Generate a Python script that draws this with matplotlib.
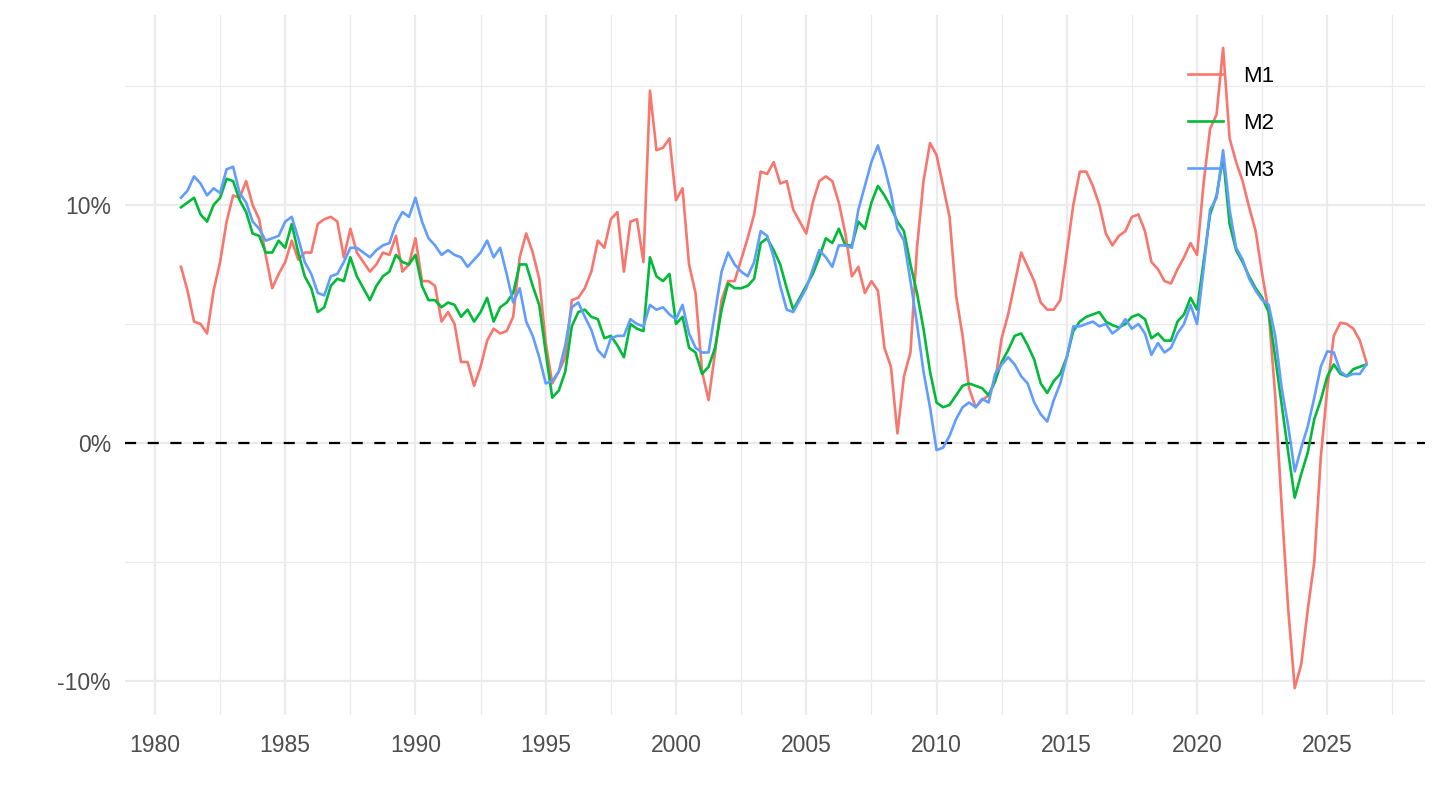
import numpy as np
import matplotlib
matplotlib.use("Agg")
import matplotlib.pyplot as plt

plt.rcParams['font.family'] = ['Liberation Sans', 'DejaVu Sans']

# quarterly points, 1981.0 -> 2026.5
years = np.arange(1981.0, 2026.5 + 0.01, 0.25)

m1 = [
    7.4, 6.4, 5.1, 5.0,      # 1981
    4.6, 6.4, 7.6, 9.3,      # 1982
    10.4, 10.3, 11.0, 10.0,  # 1983
    9.4, 7.9, 6.5, 7.1,      # 1984
    7.6, 8.5, 7.7, 8.0,      # 1985
    8.0, 9.2, 9.4, 9.5,      # 1986
    9.3, 7.8, 9.0, 8.0,      # 1987
    7.6, 7.2, 7.5, 8.0,      # 1988
    7.9, 8.7, 7.2, 7.5,      # 1989
    8.6, 6.8, 6.8, 6.6,      # 1990
    5.1, 5.5, 5.0, 3.4,      # 1991
    3.4, 2.4, 3.2, 4.3,      # 1992
    4.8, 4.6, 4.7, 5.3,      # 1993
    7.8, 8.8, 8.0, 6.9,      # 1994
    4.2, 2.5, 3.0, 3.6,      # 1995
    6.0, 6.1, 6.5, 7.2,      # 1996
    8.5, 8.2, 9.4, 9.7,      # 1997
    7.2, 9.3, 9.4, 7.6,      # 1998
    14.8, 12.3, 12.4, 12.8,  # 1999
    10.2, 10.7, 7.5, 6.3,    # 2000
    3.0, 1.8, 3.8, 6.0,      # 2001
    6.8, 6.8, 7.7, 8.6,      # 2002
    9.6, 11.4, 11.3, 11.8,   # 2003
    10.9, 11.0, 9.8, 9.3,    # 2004
    8.8, 10.1, 11.0, 11.2,   # 2005
    11.0, 10.1, 8.8, 7.0,    # 2006
    7.4, 6.3, 6.8, 6.4,      # 2007
    4.0, 3.2, 0.4, 2.8,      # 2008
    3.8, 8.2, 11.0, 12.6,    # 2009
    12.1, 10.8, 9.5, 6.2,    # 2010
    4.5, 2.3, 1.5, 1.8,      # 2011
    2.0, 2.6, 4.4, 5.4,      # 2012
    6.7, 8.0, 7.4, 6.8,      # 2013
    5.9, 5.6, 5.6, 6.0,      # 2014
    8.0, 10.0, 11.4, 11.4,   # 2015
    10.8, 10.0, 8.8, 8.3,    # 2016
    8.7, 8.9, 9.5, 9.6,      # 2017
    8.9, 7.6, 7.3, 6.8,      # 2018
    6.7, 7.3, 7.8, 8.4,      # 2019
    7.9, 10.9, 13.2, 13.8,   # 2020
    16.6, 12.8, 11.8, 11.0,  # 2021
    9.9, 8.9, 7.1, 5.5,      # 2022
    2.0, -2.7, -7.0, -10.3,  # 2023
    -9.3, -7.0, -5.0, -0.6,  # 2024
    2.3, 4.5, 5.05, 5.0,     # 2025
    4.8, 4.3, 3.4,           # 2026
]

m2 = [
    9.9, 10.1, 10.3, 9.6,
    9.3, 10.0, 10.3, 11.1,
    11.0, 10.2, 9.7, 8.8,
    8.7, 8.0, 8.0, 8.5,
    8.2, 9.2, 8.0, 7.0,
    6.5, 5.5, 5.7, 6.6,
    6.9, 6.8, 7.8, 7.0,
    6.5, 6.0, 6.6, 7.0,
    7.2, 7.9, 7.6, 7.5,
    7.9, 6.6, 6.0, 6.0,
    5.7, 5.9, 5.8, 5.3,
    5.6, 5.1, 5.5, 6.1,
    5.1, 5.7, 5.9, 6.3,
    7.5, 7.5, 6.6, 5.8,
    3.8, 1.9, 2.2, 3.0,
    4.9, 5.5, 5.6, 5.3,
    5.2, 4.4, 4.5, 4.1,
    3.6, 5.0, 4.8, 4.7,
    7.8, 7.0, 6.8, 7.1,
    5.0, 5.3, 4.0, 3.8,
    2.9, 3.2, 4.0, 5.6,
    6.7, 6.5, 6.5, 6.6,
    6.9, 8.4, 8.6, 8.1,
    7.5, 6.5, 5.6, 6.1,
    6.6, 7.1, 7.8, 8.6,
    8.4, 9.0, 8.3, 8.3,
    9.3, 9.0, 10.1, 10.8,
    10.4, 9.9, 9.3, 8.9,
    7.5, 6.3, 4.8, 3.0,
    1.7, 1.5, 1.6, 2.0,
    2.4, 2.5, 2.4, 2.3,
    2.0, 2.6, 3.4, 3.9,
    4.5, 4.6, 4.1, 3.5,
    2.5, 2.1, 2.6, 2.9,
    3.6, 4.7, 5.1, 5.3,
    5.4, 5.5, 5.1, 4.95,
    4.85, 5.0, 5.3, 5.4,
    5.2, 4.4, 4.6, 4.3,
    4.3, 5.1, 5.4, 6.1,
    5.6, 7.6, 9.6, 10.4,
    12.0, 9.2, 8.1, 7.6,
    7.0, 6.5, 6.1, 5.5,
    3.6, 1.6, -0.4, -2.3,
    -1.3, -0.4, 1.0, 1.8,
    2.8, 3.3, 2.9, 2.8,
    3.1, 3.2, 3.3,
]

m3 = [
    10.3, 10.6, 11.2, 10.9,
    10.4, 10.7, 10.5, 11.5,
    11.6, 10.5, 10.1, 9.3,
    9.0, 8.5, 8.6, 8.7,
    9.3, 9.5, 8.6, 7.6,
    7.1, 6.3, 6.2, 7.0,
    7.1, 7.6, 8.2, 8.2,
    8.0, 7.8, 8.1, 8.3,
    8.4, 9.2, 9.7, 9.5,
    10.3, 9.3, 8.6, 8.3,
    7.9, 8.1, 7.9, 7.8,
    7.4, 7.7, 8.0, 8.5,
    7.8, 8.2, 7.1, 5.9,
    6.5, 5.1, 4.5, 3.6,
    2.5, 2.6, 3.0, 4.1,
    5.7, 5.9, 5.3, 4.75,
    3.9, 3.6, 4.4, 4.5,
    4.5, 5.2, 5.0, 4.9,
    5.8, 5.6, 5.7, 5.4,
    5.2, 5.8, 4.6, 4.0,
    3.8, 3.8, 5.5, 7.2,
    8.0, 7.5, 7.2, 7.0,
    7.6, 8.9, 8.7, 7.8,
    6.6, 5.6, 5.5, 6.0,
    6.5, 7.3, 8.1, 7.8,
    7.4, 8.3, 8.3, 8.2,
    9.8, 10.8, 11.8, 12.5,
    11.6, 10.5, 9.0, 8.5,
    6.8, 5.0, 3.0, 1.5,
    -0.3, -0.2, 0.3, 1.0,
    1.5, 1.7, 1.5, 1.85,
    1.7, 2.9, 3.3, 3.6,
    3.3, 2.8, 2.5, 1.7,
    1.2, 0.9, 1.8, 2.5,
    3.6, 4.9, 4.9, 5.0,
    5.1, 4.9, 5.0, 4.6,
    4.8, 5.2, 4.8, 5.0,
    4.6, 3.7, 4.2, 3.8,
    4.0, 4.6, 5.0, 5.8,
    5.0, 7.3, 9.8, 10.3,
    12.3, 9.8, 8.2, 7.7,
    6.9, 6.4, 6.0, 5.8,
    4.5, 2.3, 0.7, -1.2,
    -0.2, 0.7, 1.9, 3.2,
    3.85, 3.8, 3.0, 2.8,
    2.9, 2.9, 3.3,
]

series_names = ['M1', 'M2', 'M3']
series_colors = ['#F8766D', '#00BA38', '#619CFF']

x_ticks = [1980, 1985, 1990, 1995, 2000, 2005, 2010, 2015, 2020, 2025]
y_ticks = [-10, 0, 10]
y_labels = ['-10%', '0%', '10%']

fig = plt.figure(figsize=(14.4, 8.1), dpi=100)
ax = fig.add_axes([125 / 1440, 1 - 715 / 810, 1300 / 1440, 700 / 810])

# grid like theme_minimal
for xv in np.arange(1980, 2030, 5):
    ax.axvline(xv, color='#EBEBEB', lw=1.6, zorder=0)
    ax.axvline(xv + 2.5, color='#EBEBEB', lw=0.9, zorder=0)
for yv in y_ticks:
    ax.axhline(yv, color='#EBEBEB', lw=1.6, zorder=0)
for yv in [-5, 5, 15]:
    ax.axhline(yv, color='#EBEBEB', lw=0.9, zorder=0)

ax.axhline(0, color='black', lw=1.6, linestyle=(0, (5.0, 5.2)), zorder=1)

for vals, name, col in zip([m1, m2, m3], series_names, series_colors):
    ax.plot(years, vals, color=col, lw=1.9, label=name, zorder=2)

ax.set_xlim(1978.85, 2028.75)
ax.set_ylim(-11.43, 17.98)
ax.set_xticks(x_ticks)
ax.set_xticklabels([str(v) for v in x_ticks])
ax.set_yticks(y_ticks)
ax.set_yticklabels(y_labels)
ax.tick_params(axis='both', length=0, labelsize=16.5, labelcolor='#4D4D4D')
ax.tick_params(axis='x', pad=14)
ax.tick_params(axis='y', pad=10)
for s in ax.spines.values():
    s.set_visible(False)

leg = ax.legend(loc='upper left', bbox_to_anchor=(1188 / 1440, 1 - 66 / 810),
                bbox_transform=fig.transFigure, frameon=False, fontsize=16,
                handlelength=1.58, handletextpad=0.9, labelspacing=1.16,
                borderpad=0, borderaxespad=0)

fig.savefig('out.png', dpi=100)
